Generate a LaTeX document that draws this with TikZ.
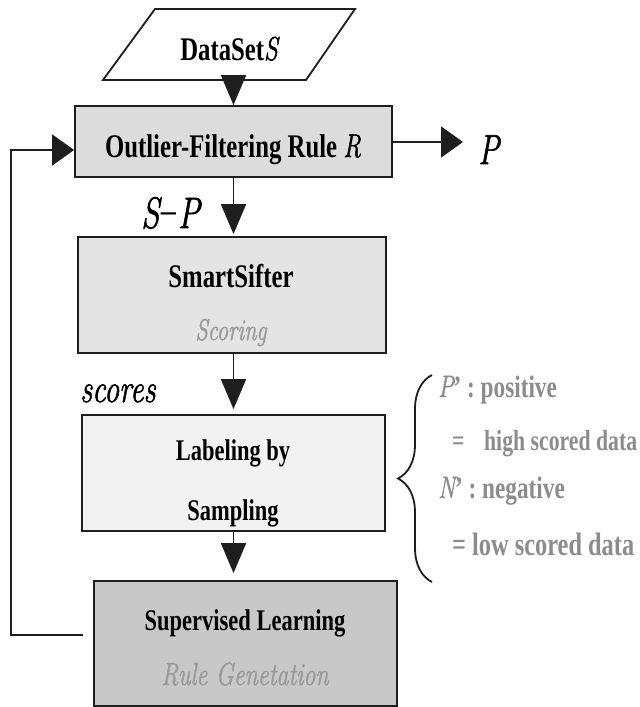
\documentclass[tikz,border=0pt]{standalone}
\usepackage{fontspec}
\newfontfamily\tms{Liberation Serif}
\newfontfamily\itx{Latin Modern Roman}[ItalicFeatures={FakeBold=1.6}]
\usetikzlibrary{arrows.meta,decorations.pathreplacing}
\newcommand{\sq}[1]{\scalebox{0.75}[1]{#1}}
\newcommand{\fs}[1]{\fontsize{#1}{#1}\selectfont}
\newcommand{\bt}[1]{{\tms\bfseries #1}}
\newcommand{\ti}[1]{{\itx\itshape #1}}
\definecolor{linec}{HTML}{1E1E1E}
\definecolor{graytext}{HTML}{9A9A9A}
\definecolor{bracetext}{HTML}{8C8C8C}
\definecolor{fillA}{HTML}{DCDCDC}
\definecolor{fillB}{HTML}{E4E4E4}
\definecolor{fillC}{HTML}{F2F2F2}
\definecolor{fillD}{HTML}{C8C8C8}
\begin{document}
\begin{tikzpicture}[x=1pt,y=-1pt,
  box/.style={draw=linec, line width=1.8pt, inner sep=0pt},
  conn/.style={draw=linec, line width=1.8pt},
  vtip/.style={-{Triangle[length=30pt,width=25pt]}},
  htip/.style={-{Triangle[length=22pt,width=31pt]}},
  lbl/.style={inner sep=0pt, text=black},
  glbl/.style={inner sep=0pt, text=graytext},
  blbl/.style={inner sep=0pt, text=bracetext, anchor=base west}]
\fill[white] (0,0) rectangle (640,707);
\useasboundingbox (0,0) rectangle (640,707);

% input parallelogram
\draw[line width=1.8pt, draw=linec, fill=white] (155,9) -- (355,9) -- (306,80) -- (103,80) -- cycle;
\node[lbl, anchor=base] (ds) at (229,60) {\sq{\fs{33}\bt{DataSet}\ti{S}}};
\coordinate (dsb) at (233.5,80);

% boxes
\node[box, fill=fillA, minimum width=317pt, minimum height=71pt] (outlier) at (233.5,141.5) {};
\node[box, fill=fillB, minimum width=308pt, minimum height=116pt] (smart) at (232,295) {};
\node[box, fill=fillC, minimum width=303pt, minimum height=116pt] (label) at (233.5,473) {};
\node[box, fill=fillD, minimum width=303pt, minimum height=125pt] (superv) at (245.5,643.5) {};

% texts in boxes
\node[lbl, anchor=base] (t1) at (233,157) {\sq{\fs{33}\bt{Outlier-Filtering Rule }\ti{R}}};
\node[lbl, anchor=base] (t2) at (231,287) {\sq{\fs{33}\bt{SmartSifter}}};
\node[glbl, anchor=base] (t3) at (231,340) {\sq{\fs{30}\ti{Scoring}}};
\node[lbl, anchor=base] (t4) at (233,460) {\sq{\fs{30}\bt{Labeling by}}};
\node[lbl, anchor=base] (t5) at (233,520) {\sq{\fs{30}\bt{Sampling}}};
\node[lbl, anchor=base] (t6) at (245,630) {\sq{\fs{30}\bt{Supervised Learning}}};
\node[glbl, anchor=base] (t7) at (245,685) {\sq{\fs{32}\ti{Rule Genetation}}};

% edge labels
\node[lbl, anchor=base west] (sp) at (141,228) {\sq{\fs{44}\ti{S}{\tms−}\ti{P}}};
\node[lbl, anchor=base west] (sc) at (80,402) {\sq{\fs{40}\ti{scores}}};
\node[lbl, anchor=base west] (pp) at (478,164) {\sq{\fs{42}\ti{P}}};
\coordinate (pend) at (463,142);

% connectors
\draw[conn, vtip] (dsb) -- (outlier.north);
\draw[conn, htip] (outlier.east |- pend) -- (pend);
\draw[conn, vtip, shorten >=2pt] (outlier.south) -- (outlier.south |- smart.north);
\draw[conn, vtip, shorten >=5pt] (smart.south -| outlier.south) -- (outlier.south |- label.north);
\draw[conn, vtip, shorten >=7pt] (label.south -| outlier.south) -- (outlier.south |- superv.north);
\coordinate (fb) at (83,635);
\coordinate (fbc) at (10.7,150);
\draw[conn, htip] (fb) -| (fbc) -- (fbc -| outlier.west);

% brace
\draw[draw=linec, line width=1.8pt, decorate, decoration={brace, amplitude=34pt}] (432,582) -- (432,375);
\node[blbl] (b1) at (438,397) {\sq{\fs{31}\ti{P}\bt{’ : positive}}};
\node[blbl] (b2) at (452,450) {\sq{\fs{29}\bt{=\hspace{0.9em}high scored data}}};
\node[blbl] (b3) at (438,498) {\sq{\fs{31}\ti{N}\bt{’ : negative}}};
\node[blbl] (b4) at (452,555) {\sq{\fs{32.5}\bt{= low scored data}}};
\end{tikzpicture}
\end{document}
